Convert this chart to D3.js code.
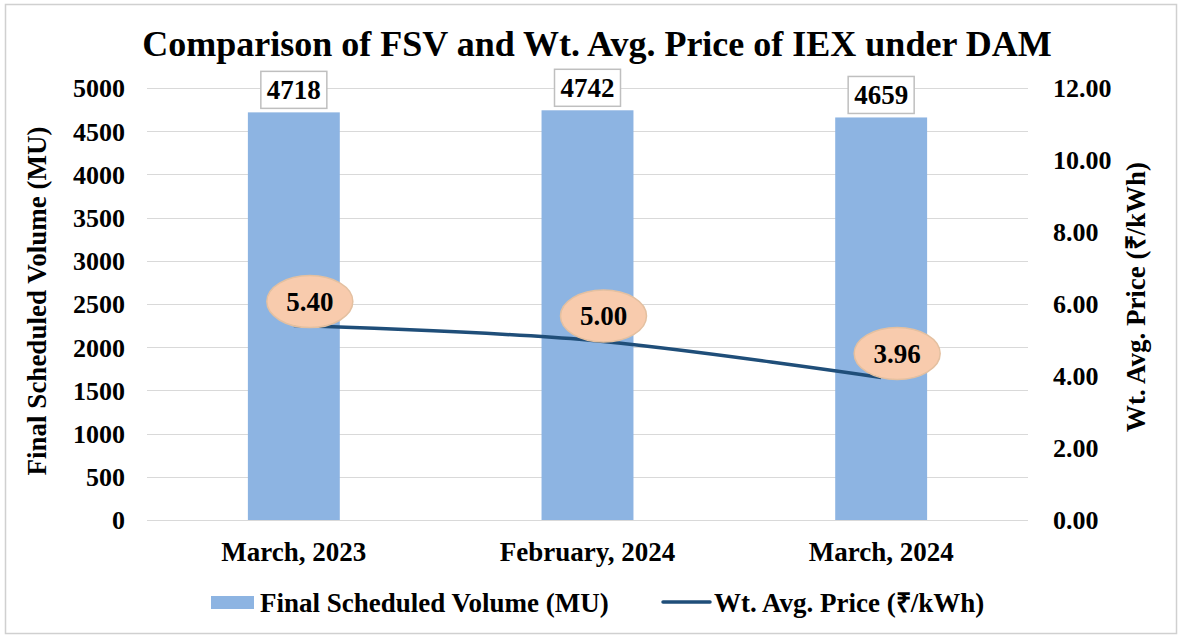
<!DOCTYPE html>
<html>
<head>
<meta charset="utf-8">
<script src="https://cdn.jsdelivr.net/npm/d3@7"></script>
<style>
    body { margin: 0; background: #fff; }
    text { font-family: "Liberation Serif", "Times New Roman", serif; font-weight: bold; fill: #000; }
</style>
</head>
<body>
<div id="chart"></div>
<script>
const months = ["March, 2023", "February, 2024", "March, 2024"];
const volume = [4718, 4742, 4659];
const price = [5.40, 5.00, 3.96];
const volumeTicks = [0, 500, 1000, 1500, 2000, 2500, 3000, 3500, 4000, 4500, 5000];
const priceTicks = [0, 2, 4, 6, 8, 10, 12];

const width = 1178;
const height = 637;
const plot = { left: 147, right: 1028, top: 88, bottom: 520 };

const svg = d3.select("#chart")
    .append("svg")
    .attr("width", width)
    .attr("height", height);

//outer frame
svg.append("rect")
    .attr("x", 5.5)
    .attr("y", 4.5)
    .attr("width", 1171)
    .attr("height", 629)
    .attr("fill", "#fff")
    .attr("stroke", "#d0d0d0")
    .attr("stroke-width", 1.5);

//title
svg.append("text")
    .attr("x", 597)
    .attr("y", 56)
    .attr("text-anchor", "middle")
    .style("font-size", "36px")
    .text("Comparison of FSV and Wt. Avg. Price of IEX under DAM");

const x = d3.scaleBand()
    .domain(months)
    .range([plot.left, plot.right])
    .paddingInner(0.687)
    .paddingOuter(0.3435);

const yLeft = d3.scaleLinear()
    .domain([0, 5000])
    .range([plot.bottom, plot.top]);

const yRight = d3.scaleLinear()
    .domain([0, 12])
    .range([plot.bottom, plot.top]);

//gridlines
svg.append("g")
    .selectAll("line")
    .data(volumeTicks)
    .join("line")
    .attr("x1", plot.left)
    .attr("x2", plot.right)
    .attr("y1", d => Math.round(yLeft(d)) + 0.5)
    .attr("y2", d => Math.round(yLeft(d)) + 0.5)
    .attr("stroke", "#d9d9d9")
    .attr("stroke-width", 1);

//left axis
const leftAxis = d3.axisLeft(yLeft).tickValues(volumeTicks).tickSize(0).tickPadding(22)
    .tickFormat(d3.format("d"));
const gl = svg.append("g")
    .attr("transform", `translate(${plot.left}, 0)`)
    .call(leftAxis);
gl.select(".domain").remove();
gl.selectAll("text").style("font-size", "26px").style("font-family", null).attr("dy", "0.34em");

//right axis
const rightAxis = d3.axisRight(yRight).tickValues(priceTicks).tickSize(0).tickPadding(25)
    .tickFormat(d3.format(".2f"));
const gr = svg.append("g")
    .attr("transform", `translate(${plot.right}, 0)`)
    .call(rightAxis);
gr.select(".domain").remove();
gr.selectAll("text").style("font-size", "26px").style("font-family", null).attr("dy", "0.34em");

//x axis labels
const xAxis = d3.axisBottom(x).tickSize(0).tickPadding(22);
const gx = svg.append("g")
    .attr("transform", `translate(0, ${plot.bottom})`)
    .call(xAxis);
gx.select(".domain").remove();
gx.selectAll("text").style("font-size", "27px").style("font-family", null);

//axis titles
svg.append("text")
    .attr("transform", `translate(46, ${(plot.top + plot.bottom) / 2 - 3}) rotate(-90)`)
    .attr("text-anchor", "middle")
    .style("font-size", "27px")
    .text("Final Scheduled Volume (MU)");

svg.append("text")
    .attr("transform", `translate(1145, ${(plot.top + plot.bottom) / 2 - 7}) rotate(-90)`)
    .attr("text-anchor", "middle")
    .style("font-size", "27px")
    .text("Wt. Avg. Price (₹/kWh)");

//bars
svg.append("g")
    .selectAll("rect")
    .data(volume)
    .join("rect")
    .attr("x", (d, i) => x(months[i]))
    .attr("y", d => yLeft(d))
    .attr("width", x.bandwidth())
    .attr("height", d => plot.bottom - yLeft(d))
    .attr("fill", "#8db4e2");

//bar labels
const barLabels = svg.append("g")
    .selectAll("g")
    .data(volume)
    .join("g")
    .attr("transform", (d, i) => `translate(${x(months[i]) + x.bandwidth() / 2}, ${yLeft(d) - 23})`);

barLabels.append("rect")
    .attr("x", -33)
    .attr("y", -18)
    .attr("width", 66)
    .attr("height", 37)
    .attr("fill", "#fff")
    .attr("stroke", "#bfbfbf")
    .attr("stroke-width", 1.5);

barLabels.append("text")
    .attr("text-anchor", "middle")
    .attr("dy", "0.35em")
    .style("font-size", "27px")
    .text(d => d);

//price line
const points = price.map((d, i) => [x(months[i]) + x.bandwidth() / 2, yRight(d)]);

svg.append("path")
    .datum(points)
    .attr("d", d3.line().curve(d3.curveCatmullRom.alpha(0.5)))
    .attr("fill", "none")
    .attr("stroke", "#1f4e79")
    .attr("stroke-width", 3.5);

//price labels
const priceLabels = svg.append("g")
    .selectAll("g")
    .data(price)
    .join("g")
    .attr("transform", (d, i) => `translate(${points[i][0] + 16}, ${points[i][1] - 24})`);

priceLabels.append("ellipse")
    .attr("rx", 43)
    .attr("ry", 26)
    .attr("fill", "#f8cbad")
    .attr("stroke", "#e4c0a0")
    .attr("stroke-width", 1.5);

priceLabels.append("text")
    .attr("text-anchor", "middle")
    .attr("dy", "0.35em")
    .style("font-size", "27px")
    .text(d => d.toFixed(2));

//legend
const legend = svg.append("g");

legend.append("rect")
    .attr("x", 211)
    .attr("y", 596)
    .attr("width", 43)
    .attr("height", 13)
    .attr("fill", "#8db4e2");

legend.append("text")
    .attr("x", 260)
    .attr("y", 612)
    .style("font-size", "27px")
    .text("Final Scheduled Volume (MU)");

legend.append("line")
    .attr("x1", 663)
    .attr("x2", 710)
    .attr("y1", 602)
    .attr("y2", 602)
    .attr("stroke", "#1f4e79")
    .attr("stroke-width", 3.5)
    .attr("stroke-linecap", "round");

legend.append("text")
    .attr("x", 714)
    .attr("y", 612)
    .style("font-size", "27px")
    .text("Wt. Avg. Price (₹/kWh)");
</script>
</body>
</html>
